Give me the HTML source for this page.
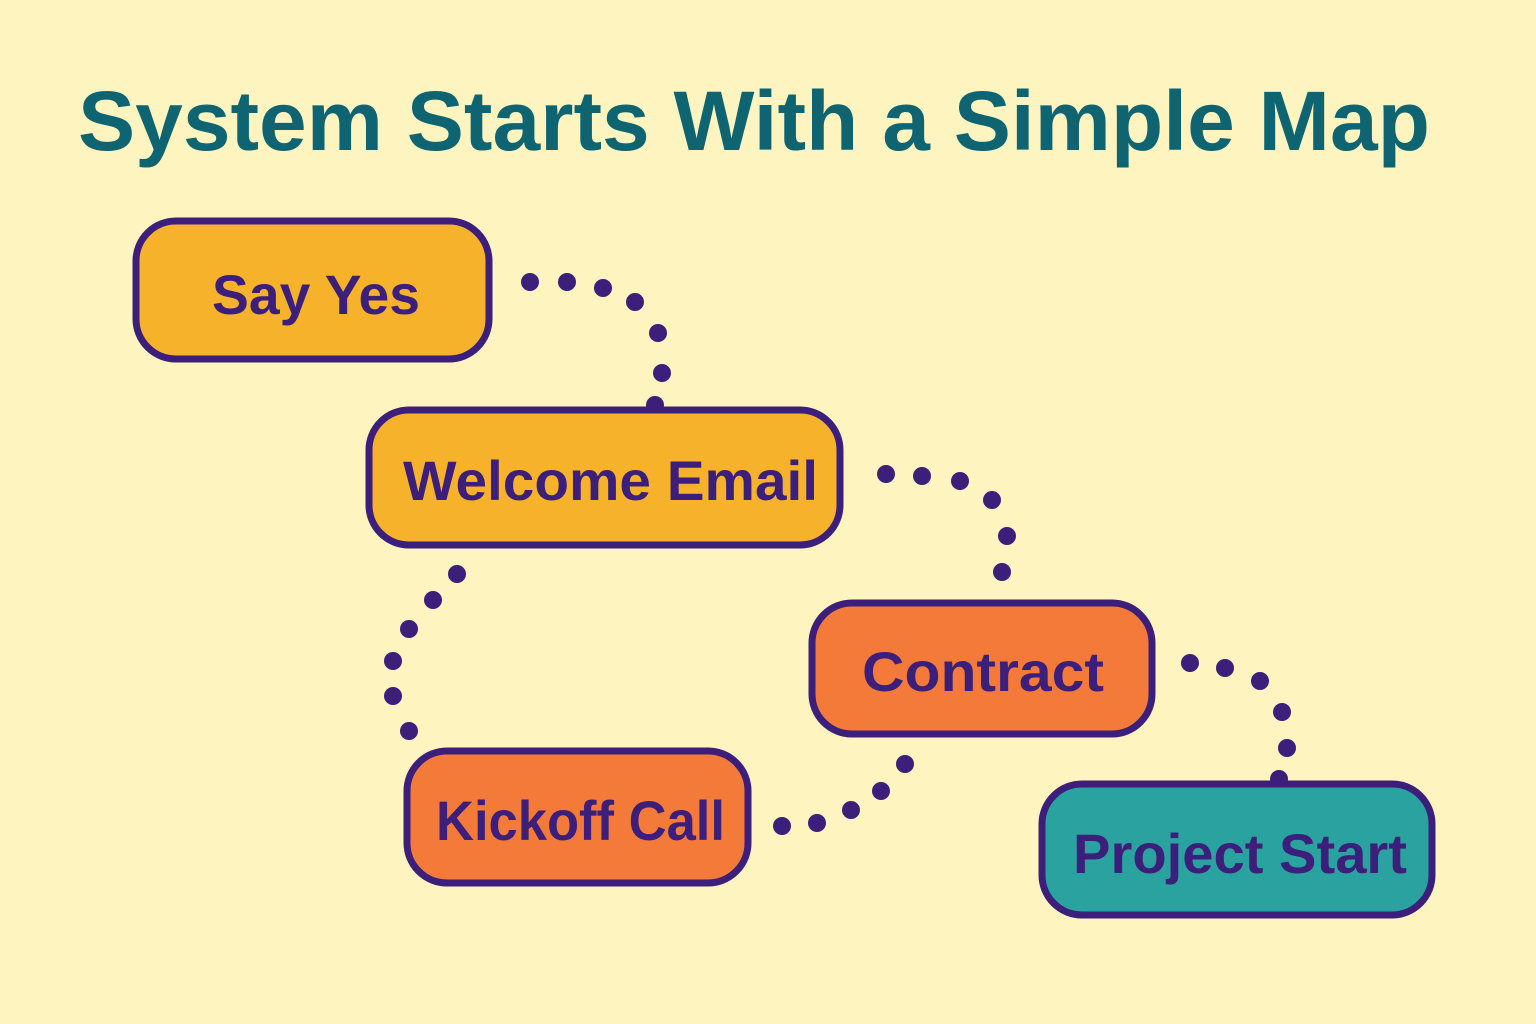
<!DOCTYPE html>
<html><head><meta charset="utf-8"><style>html,body{margin:0;padding:0;background:#FDF4C0}svg{display:block}</style></head>
<body>
<svg width="1536" height="1024" viewBox="0 0 1536 1024" xmlns="http://www.w3.org/2000/svg">
<rect width="1536" height="1024" fill="#FDF4C0"/>
<text x="78" y="150" font-family="Liberation Sans, sans-serif" font-weight="bold" font-size="84" fill="#0E6470" textLength="1352" lengthAdjust="spacingAndGlyphs">System Starts With a Simple Map</text>
<g fill="#3B1F7A">
<circle cx="530" cy="282" r="9"/><circle cx="567" cy="282" r="9"/><circle cx="603" cy="288" r="9"/><circle cx="635" cy="302" r="9"/><circle cx="658" cy="333" r="9"/><circle cx="662" cy="373" r="9"/><circle cx="655" cy="405" r="9"/>
<circle cx="886" cy="474" r="9"/><circle cx="922" cy="476" r="9"/><circle cx="960" cy="481" r="9"/><circle cx="992" cy="500" r="9"/><circle cx="1007" cy="536" r="9"/><circle cx="1002" cy="572" r="9"/>
<circle cx="457" cy="574" r="9"/><circle cx="433" cy="600" r="9"/><circle cx="409" cy="629" r="9"/><circle cx="393" cy="661" r="9"/><circle cx="393" cy="696" r="9"/><circle cx="409" cy="731" r="9"/>
<circle cx="782" cy="826" r="9"/><circle cx="817" cy="823" r="9"/><circle cx="851" cy="810" r="9"/><circle cx="881" cy="791" r="9"/><circle cx="905" cy="764" r="9"/>
<circle cx="1190" cy="663" r="9"/><circle cx="1225" cy="668" r="9"/><circle cx="1260" cy="681" r="9"/><circle cx="1282" cy="712" r="9"/><circle cx="1287" cy="748" r="9"/><circle cx="1279" cy="779" r="9"/>
</g>
<g stroke="#3B1F7A" stroke-width="7">
<rect x="136" y="221" width="353" height="138" rx="40" fill="#F7B22C"/>
<rect x="369" y="410" width="471" height="135" rx="40" fill="#F7B22C"/>
<rect x="812" y="603" width="340" height="131" rx="40" fill="#F47A3A"/>
<rect x="407" y="751" width="341" height="132" rx="40" fill="#F47A3A"/>
<rect x="1042" y="784" width="390" height="131" rx="40" fill="#2AA3A0"/>
</g>
<g font-family="Liberation Sans, sans-serif" font-weight="bold" font-size="56" fill="#3B1F7A" lengthAdjust="spacingAndGlyphs">
<text x="212" y="314" textLength="208" lengthAdjust="spacingAndGlyphs">Say Yes</text>
<text x="403" y="500" textLength="415" lengthAdjust="spacingAndGlyphs">Welcome Email</text>
<text x="862" y="691" textLength="242" lengthAdjust="spacingAndGlyphs">Contract</text>
<text x="436" y="840" textLength="289" lengthAdjust="spacingAndGlyphs">Kickoff Call</text>
<text x="1073" y="873" textLength="334" lengthAdjust="spacingAndGlyphs">Project Start</text>
</g>
</svg>
</body></html>
